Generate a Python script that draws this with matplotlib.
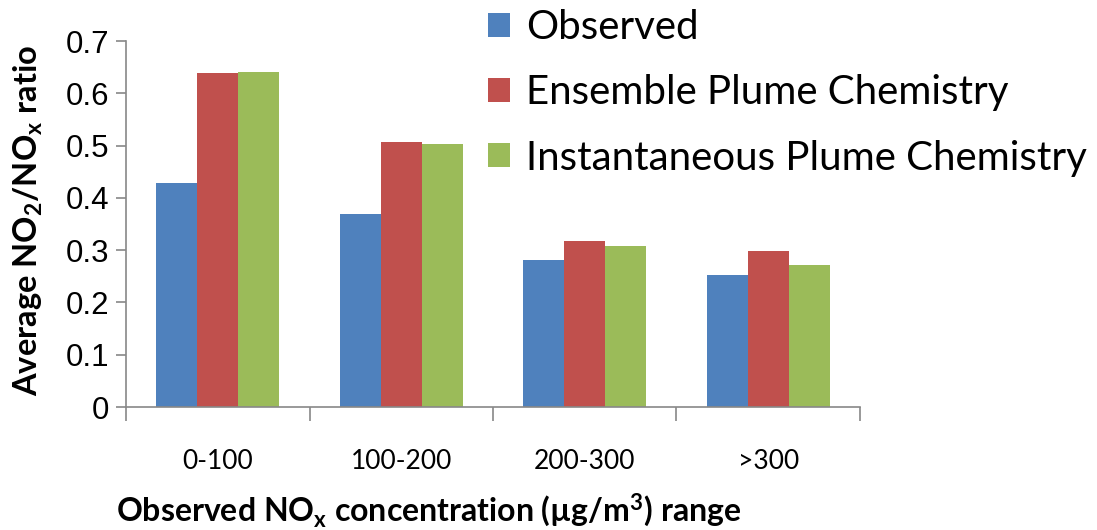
import matplotlib
matplotlib.use('Agg')
import matplotlib.pyplot as plt
import numpy as np

categories = ['0-100', '100-200', '200-300', '>300']
observed = [0.428, 0.369, 0.281, 0.252]
ensemble = [0.639, 0.507, 0.317, 0.298]
instantaneous = [0.641, 0.503, 0.308, 0.271]
series_names = ['Observed', 'Ensemble Plume Chemistry', 'Instantaneous Plume Chemistry']
colors = ['#4F81BD', '#C0504D', '#9BBB59']

plt.rcParams['font.family'] = ['Lato', 'DejaVu Sans']
plt.rcParams['mathtext.default'] = 'regular'

fig = plt.figure(figsize=(10.97, 5.30), dpi=100)
ax = fig.add_axes([0.1149, 0.232, 0.669, 0.6906])

x = np.arange(len(categories))
w = 0.224
handles = []
for i, (vals, name, c) in enumerate(zip([observed, ensemble, instantaneous], series_names, colors)):
    b = ax.bar(x + (i - 1) * w, vals, width=w, color=c, label=name)
    handles.append(b)

ax.set_xlim(-0.5, len(categories) - 0.5)
ax.set_ylim(0, 0.7)
ax.set_yticks(np.arange(0, 0.71, 0.1))
ax.set_yticklabels(['0'] + [f'{v:.1f}' for v in np.arange(0.1, 0.71, 0.1)],
                   fontsize=22.5, family=['Liberation Sans'])
ax.tick_params(axis='y', length=7, width=1.2, color='#888888', pad=5)

# category boundary ticks
ax.set_xticks(np.arange(-0.5, len(categories), 1.0))
ax.set_xticklabels([])
ax.tick_params(axis='x', length=10, width=1.2, color='#888888')
ax.set_xticks(x, minor=True)
ax.set_xticklabels(categories, minor=True, fontsize=19)
ax.tick_params(axis='x', which='minor', length=0, pad=30)

for s in ['top', 'right']:
    ax.spines[s].set_visible(False)
for s in ['left', 'bottom']:
    ax.spines[s].set_color('#888888')
    ax.spines[s].set_linewidth(1.2)

ax.set_ylabel('Average NO$_2$/NO$_x$ ratio', fontsize=23.5, fontweight='bold')
ax.yaxis.set_label_coords(-0.11, 0.51)
fig.text(0.391, 0.038, 'Observed NO$_x$ concentration (µg/m$^3$) range', fontsize=23,
         fontweight='bold', ha='center', va='center')

fig.legend(handles=handles, labels=series_names, loc='upper left',
           bbox_to_anchor=(0.430, 1.013), frameon=False, fontsize=29,
           handlelength=0.55, handleheight=0.55, handletextpad=0.4,
           labelspacing=0.7, borderaxespad=0)

fig.savefig('out.png', dpi=100)
